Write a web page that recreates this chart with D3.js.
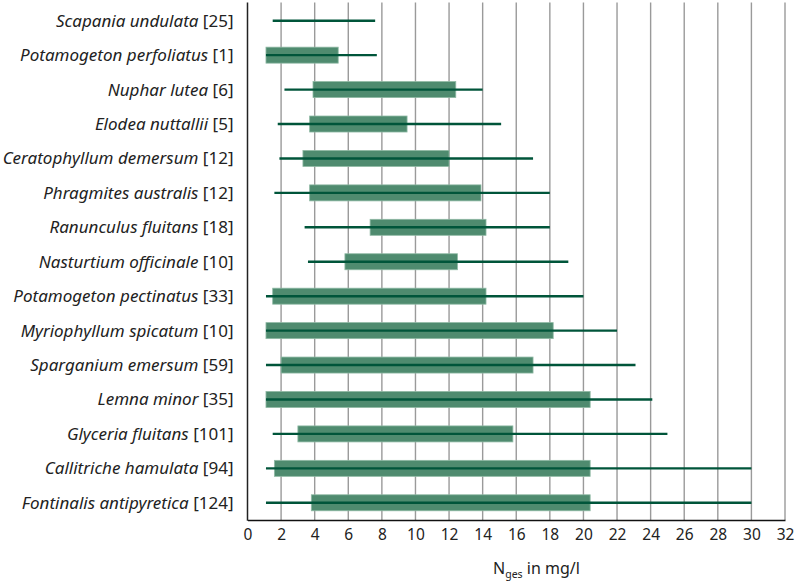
<!DOCTYPE html>
<html><head><meta charset="utf-8">
<script src="https://cdn.jsdelivr.net/npm/d3@7"></script>
<style>body{margin:0;background:#fff}svg{display:block}</style>
</head><body>
<svg id="c" width="796" height="582"></svg>
<script>
const species = ["Scapania undulata","Potamogeton perfoliatus","Nuphar lutea","Elodea nuttallii","Ceratophyllum demersum","Phragmites australis","Ranunculus fluitans","Nasturtium officinale","Potamogeton pectinatus","Myriophyllum spicatum","Sparganium emersum","Lemna minor","Glyceria fluitans","Callitriche hamulata","Fontinalis antipyretica"];
const counts = [25,1,6,5,12,12,18,10,33,10,59,35,101,94,124];
const minVals = [1.5,1.1,2.2,1.8,1.9,1.6,3.4,3.6,1.1,1.1,1.1,1.1,1.5,1.1,1.1];
const maxVals = [7.6,7.7,14.0,15.1,17.0,18.0,18.0,19.1,20.0,22.0,23.1,24.1,25.0,30.0,30.0];
const boxLow = [null,1.1,3.9,3.7,3.3,3.7,7.3,5.8,1.5,1.1,2.0,1.1,3.0,1.6,3.8];
const boxHigh = [null,5.4,12.4,9.5,12.0,13.9,14.2,12.5,14.2,18.2,17.0,20.4,15.8,20.4,20.4];
const xTicks = d3.range(0,33,2);

const svg = d3.select("#c");
const mLeft = 247.5, mRight = 785, mTop = 3.5, mBottom = 520;
const x = d3.scaleLinear().domain([0,32]).range([mLeft,mRight]);
const y = d3.scaleBand().domain(species).range([mTop,mBottom]);
const font = "'Noto Sans', sans-serif";

// gridlines
svg.append("g").selectAll("line").data(xTicks.filter(d=>d>0)).join("line")
  .attr("x1",d=>x(d)).attr("x2",d=>x(d)).attr("y1",mTop-1).attr("y2",mBottom)
  .attr("stroke","#9a9a9a").attr("stroke-width",1.4);

const rows = species.map((s,i)=>({s,i}));
// boxes
svg.append("g").selectAll("rect").data(rows.filter(d=>boxLow[d.i]!=null)).join("rect")
  .attr("x",d=>x(boxLow[d.i])).attr("width",d=>x(boxHigh[d.i])-x(boxLow[d.i]))
  .attr("y",d=>y(d.s)+y.bandwidth()/2-8).attr("height",16)
  .attr("fill","#4f8b6f").attr("stroke","#8fb9a4").attr("stroke-width",0.8);
// whisker lines
svg.append("g").selectAll("line").data(rows).join("line")
  .attr("x1",d=>x(minVals[d.i])).attr("x2",d=>x(maxVals[d.i]))
  .attr("y1",d=>y(d.s)+y.bandwidth()/2).attr("y2",d=>y(d.s)+y.bandwidth()/2)
  .attr("stroke","#00553a").attr("stroke-width",2.4);

// axes
const xAxis = d3.axisBottom(x).tickValues(xTicks).tickSize(0).tickPadding(9);
const gx = svg.append("g").attr("transform",`translate(0,${mBottom})`).call(xAxis);
gx.select(".domain").attr("stroke","#111").attr("stroke-width",1.5);
gx.selectAll("text").attr("font-family",font).attr("font-size",15.5).attr("fill","#222");

svg.append("line").attr("x1",mLeft).attr("x2",mLeft).attr("y1",mTop-1).attr("y2",mBottom+0.75)
  .attr("stroke","#222").attr("stroke-width",1.5);

// y labels
const lab = svg.append("g").selectAll("text").data(rows).join("text")
  .attr("x",mLeft-14).attr("y",d=>y(d.s)+y.bandwidth()/2).attr("dy","0.35em")
  .attr("text-anchor","end").attr("font-family",font).attr("font-size",17).attr("fill","#222");
lab.append("tspan").attr("font-style","italic").text(d=>d.s);
lab.append("tspan").text(d=>" ["+counts[d.i]+"]");

// axis title
const t = svg.append("text").attr("x",x(17.2)).attr("y",574).attr("text-anchor","middle")
  .attr("font-family",font).attr("font-size",16).attr("fill","#222");
t.append("tspan").text("N");
t.append("tspan").attr("font-size",10.5).attr("dy",4).text("ges");
t.append("tspan").attr("dy",-4).text(" in mg/l");
</script>
</body></html>
